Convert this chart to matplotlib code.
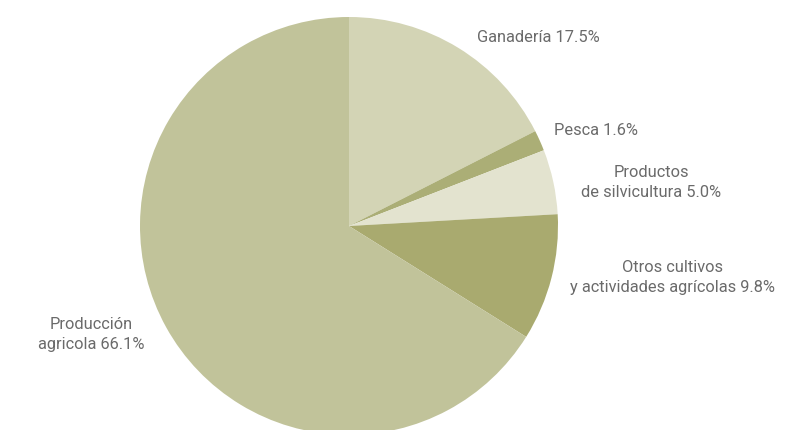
import matplotlib
matplotlib.use("agg")
import matplotlib.pyplot as plt

# slices clockwise from 12 o'clock
labels = ["Ganadería 17.5%", "Pesca 1.6%", "Productos\nde silvicultura 5.0%",
          "Otros cultivos\ny actividades agrícolas 9.8%", "Producción\nagricola 66.1%"]
shares = [17.5, 1.6, 5.0, 9.8, 66.1]
colors = ["#d3d4b5", "#abae76", "#e3e3cf", "#a9aa6f", "#c1c39a"]

plt.rcParams["font.family"] = ["Roboto", "DejaVu Sans"]

fig = plt.figure(figsize=(7.95, 4.3), dpi=100)
# pie centre at (349, 226) px, radius 209 px
ax = fig.add_axes([140 / 795, (430 - 435) / 430, 418 / 795, 418 / 430])
ax.pie(shares, colors=colors, startangle=90, counterclock=False, radius=1,
       wedgeprops={"linewidth": 0})
ax.set_xlim(-1, 1)
ax.set_ylim(-1, 1)
ax.set_aspect("equal")
ax.axis("off")

# label positions in pie units
pos = [(0.613, 0.90, "left"), (0.98, 0.455, "left"), (1.445, 0.21, "center"),
       (1.55, -0.245, "center"), (-1.234, -0.52, "center")]
for lab, (x, y, ha) in zip(labels, pos):
    ax.text(x, y, lab, ha=ha, va="center", fontsize=11.8,
            color="#6a6a6a", linespacing=1.4, clip_on=False)

plt.savefig("out.png", dpi=100)
